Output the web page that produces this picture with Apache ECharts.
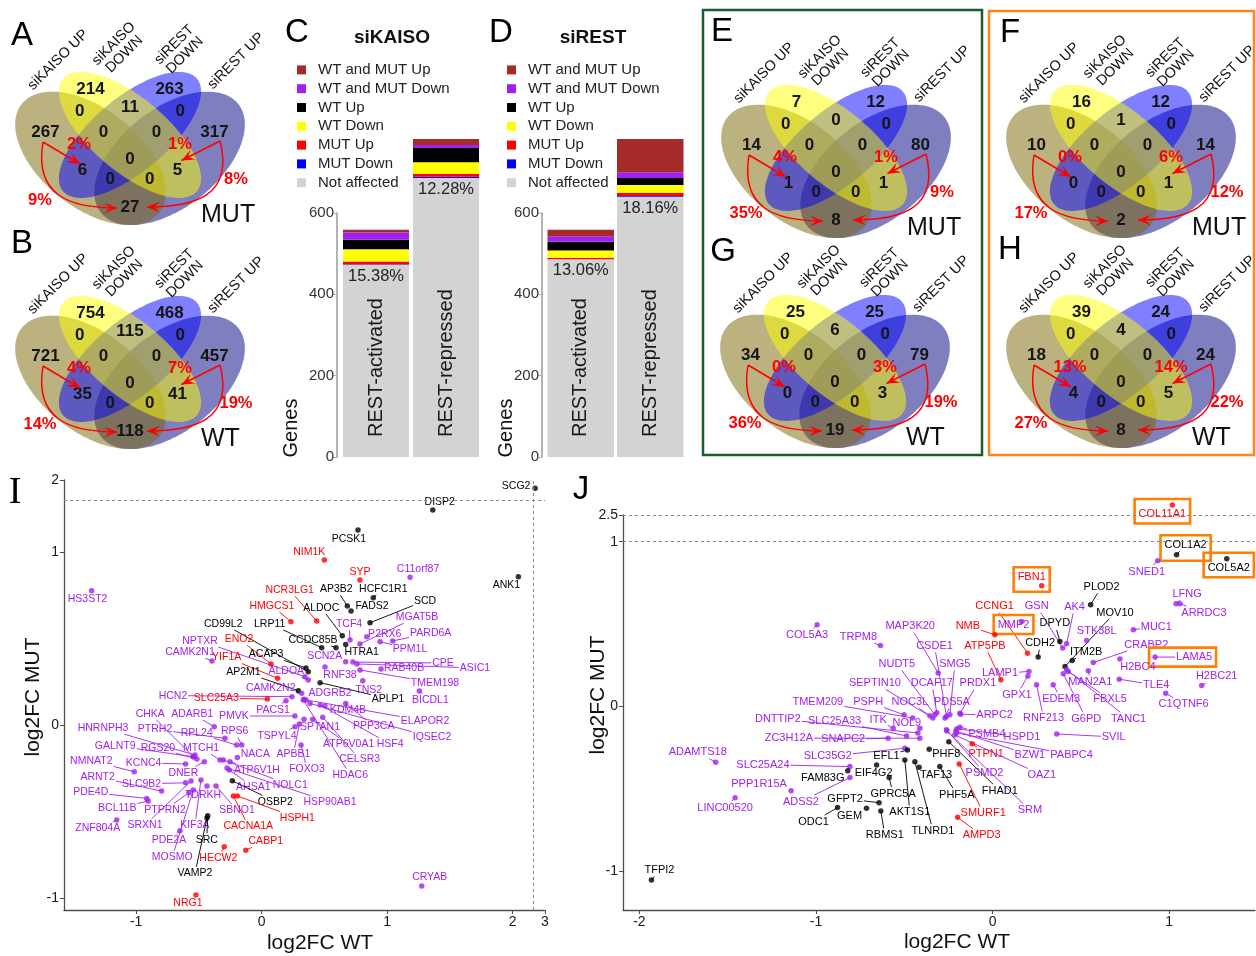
<!DOCTYPE html>
<html>
<head>
<meta charset="utf-8">
<title>Figure</title>
<script src="https://cdn.jsdelivr.net/npm/echarts@6.0.0/dist/echarts.min.js"></script>
<style>
html,body{margin:0;padding:0;background:#ffffff;}
#chart{width:1256px;height:956px;}
</style>
</head>
<body>
<div id="chart"></div>
<script>
// ======================= DATA =======================
// Venn panels: region counts in order
// topL, topC, topR, midL, midR, farL, inL, inR, farR, center, lowL, lowR, botL, botR, bottom
const vennSetNames = ['siKAISO UP', 'siKAISO\nDOWN', 'siREST\nDOWN', 'siREST UP'];
const vennA = [214, 11, 263, 0, 0, 267, 0, 0, 317, 0, 6, 5, 0, 0, 27];
const vennB = [754, 115, 468, 0, 0, 721, 0, 0, 457, 0, 35, 41, 0, 0, 118];
const vennE = [7, 0, 12, 0, 0, 14, 0, 0, 80, 0, 1, 1, 0, 0, 8];
const vennG = [25, 6, 25, 0, 0, 34, 0, 0, 79, 0, 0, 3, 0, 0, 19];
const vennF = [16, 1, 12, 0, 0, 10, 0, 0, 14, 0, 0, 1, 0, 0, 2];
const vennH = [39, 4, 24, 0, 0, 18, 0, 0, 24, 0, 4, 5, 0, 0, 8];
// percent annotations: [left small, right small, left big, right big]
const pctA = ['2%', '1%', '9%', '8%'];
const pctB = ['4%', '7%', '14%', '19%'];
const pctE = ['4%', '1%', '35%', '9%'];
const pctG = ['0%', '3%', '36%', '19%'];
const pctF = ['0%', '6%', '17%', '12%'];
const pctH = ['13%', '14%', '27%', '22%'];

// Stacked bars (C: siKAISO, D: siREST)
const barCategories = ['REST-activated', 'REST-repressed'];
const stackNames = ['Not affected', 'MUT Down', 'MUT Up', 'WT Down', 'WT Up', 'WT and MUT Down', 'WT and MUT Up'];
const kaisoCounts = [[473, 686], [1, 3], [7, 7], [30, 29], [23, 35], [18, 7], [7, 15]];
const restCounts  = [[486, 640], [0, 2], [4, 8], [18, 19], [21, 17], [14, 14], [16, 82]];
const barTicks = [0, 200, 400, 600];

// Scatter I
const namesI = [
  'SCG2','DISP2','PCSK1','NIM1K','SYP','C11orf87','ANK1','HS3ST2',
  'NCR3LG1','AP3B2','HCFC1R1','ALDOC','FADS2','SCD','HMGCS1','LRP11',
  'CD99L2','TCF4','MGAT5B','P2RX6','PARD6A','PPM1L','CCDC85B','HTRA1',
  'NPTXR','ENO2','YIF1A','ACAP3','AP2M1','ALDOA','SCN2A','RNF38',
  'CPE','ASIC1','RAB40B','TMEM198','TNS2','BICDL1','APLP1','CAMK2N1',
  'CAMK2N2','HCN2','SLC25A3','ADGRB2','PACS1','KDM4B','ELAPOR2','IQSEC2',
  'PPP3CA','HSF4','ATP6V0A1','CELSR3','HDAC6','SPTAN1','PMVK','TSPYL4',
  'APBB1','FOXO3','CHKA','ADARB1','HNRNPH3','PTRH2','RPL24','GALNT9',
  'RGS20','MTCH1','NMNAT2','KCNC4','DNER','ARNT2','SLC9B2','PDE4D',
  'BCL11B','PTPRN2','ZNF804A','SRXN1','KIF3A','PDE2A','MOSMO','TDRKH',
  'SBNO1','NACA','RPS6','ATP6V1H','NOLC1','AHSA1','OSBP2','HSP90AB1',
  'HSPH1','CACNA1A','SRC','VAMP2','HECW2','CABP1','NRG1','CRYAB'
];
const groupI = [
  'K','K','K','R','R','P','K','P',
  'R','K','K','K','K','K','R','K',
  'K','P','P','P','P','P','K','K',
  'P','R','R','K','K','P','P','P',
  'P','P','P','P','P','P','K','P',
  'P','P','R','P','P','P','P','P',
  'P','P','P','P','P','P','P','P',
  'P','P','P','P','P','P','P','P',
  'P','P','P','P','P','P','P','P',
  'P','P','P','P','P','P','P','P',
  'P','P','P','P','P','P','K','P',
  'R','R','K','K','R','R','R','P'
];
const xI = [
  2.34, 1.363, 0.767, 0.499, 0.783, 1.182, 2.045, -1.355,
  0.438, 0.682, 0.889, 0.642, 0.712, 0.863, 0.233, 0.478,
  0.371, 0.704, 0.783, 0.837, 1.044, 0.943, 0.592, 0.669,
  0.345, 0.074, 0.127, 0.353, 0.292, 0.371, 0.669, 0.504,
  0.727, 0.759, 0.951, 0.783, 0.805, 1.256, 0.465, -0.396,
  0.319, 0.241, 0.045, 0.337, 0.194, 0.504, 0.353, 0.385,
  0.669, 0.465, 0.406, 0.486, 0.331, 0.337, 0.265, 0.265,
  0.300, 0.313, -0.545, -0.378, -0.531, -0.292, -0.199, -0.545,
  -0.516, -0.332, -1.015, -0.606, -0.457, -0.797, -0.606, -0.916,
  -0.904, -0.579, -1.155, -0.563, -0.484, -0.651, -0.545, -0.436,
  -0.364, -0.194, -0.159, -0.253, -0.306, -0.258, -0.234, -0.276,
  -0.194, -0.226, -0.430, -0.436, -0.298, -0.127, -0.524, 1.275
];
const yI = [
  1.71, 1.243, 1.127, 0.954, 0.838, 0.854, 0.857, 0.776,
  0.601, 0.688, 0.736, 0.516, 0.659, 0.591, 0.597, 0.447,
  0.308, 0.491, 0.468, 0.510, 0.486, 0.481, 0.447, 0.466,
  0.279, 0.353, 0.270, 0.329, 0.198, 0.260, 0.366, 0.335,
  0.364, 0.353, 0.324, 0.318, 0.256, 0.197, 0.245, 0.370,
  0.183, 0.164, 0.150, 0.149, 0.140, 0.110, 0.145, 0.125,
  0.125, 0.116, 0.033, 0.045, 0.145, 0.033, 0.052, -0.010,
  0.006, -0.116, -0.183, -0.010, -0.173, -0.077, -0.116, -0.183,
  -0.197, -0.202, -0.270, -0.225, -0.212, -0.382, -0.334, -0.424,
  -0.439, -0.391, -0.549, -0.324, -0.318, -0.611, -0.376, -0.353,
  -0.353, -0.187, -0.116, -0.212, -0.202, -0.260, -0.322, -0.249,
  -0.410, -0.410, -0.524, -0.538, -0.703, -0.723, -0.983, -0.931
];
const ticksIx = [-1, 0, 1, 2, 3];
const ticksIy = [-1, 0, 1, 2];

// Scatter J
const namesJ = [
  'COL11A1','COL1A2','COL5A2','SNED1','FBN1','PLOD2','LFNG','ARRDC3',
  'GSN','AK4','CCNG1','MOV10','MMP2','NMB','DPYD','MUC1',
  'STK38L','COL5A3','TRPM8','MAP3K20','ATP5PB','CDH2','CSDE1','ITM2B',
  'CRABP2','LAMA5','LAMP1','NUDT5','SMG5','H2BC4','MAN2A1','H2BC21',
  'TLE4','SEPTIN10','DCAF17','PRDX1','GPX1','EDEM3','FBXL5','RNF213',
  'G6PD','TANC1','C1QTNF6','TMEM209','PSPH','NOC3L','PDS5A','ARPC2',
  'ITK','NOL9','SLC25A33','DNTTIP2','ZC3H12A','SNAPC2','SLC35G2','PSMB4',
  'HSPD1','PTPN1','BZW1','PABPC4','SVIL','PSMD2','OAZ1','SRM',
  'ADAMTS18','SLC25A24','EFL1','PHF8','FAM83G','EIF4G2','TAF13','PHF5A',
  'FHAD1','GPRC5A','SMURF1','PPP1R15A','ADSS2','LINC00520','GFPT2','ODC1',
  'GEM','AKT1S1','RBMS1','TLNRD1','AMPD3','TFPI2'
];
const groupJ = [
  'R','K','K','P','R','K','P','P',
  'P','P','R','K','P','R','K','P',
  'P','P','P','P','R','K','P','K',
  'P','P','P','P','P','P','P','P',
  'P','P','P','P','P','P','P','P',
  'P','P','P','P','P','P','P','P',
  'P','P','P','P','P','P','P','P',
  'P','R','P','P','P','P','P','P',
  'P','P','K','K','K','K','K','K',
  'K','K','R','P','P','P','K','K',
  'K','K','K','K','R','K'
];
const xJ = [
  1.018, 1.042, 1.326, 0.935, 0.278, 0.555, 1.039, 1.061,
  0.397, 0.419, 0.198, 0.410, 0.164, 0.013, 0.381, 0.797,
  0.533, -0.994, -0.635, -0.308, 0.047, 0.258, -0.261, 0.451,
  0.570, 0.920, 0.206, -0.327, -0.242, 0.721, 0.542, 1.184,
  0.717, -0.338, -0.316, -0.185, 0.200, 0.343, 0.428, 0.249,
  0.400, 0.419, 0.980, -0.452, -0.501, -0.355, -0.270, -0.181,
  -0.563, -0.412, -0.487, -0.423, -0.412, -0.592, -0.497, -0.185,
  -0.202, -0.116, -0.208, -0.204, 0.363, -0.261, -0.214, -0.259,
  -1.568, -0.808, -0.482, -0.359, -0.820, -0.657, -0.416, -0.299,
  -0.248, -0.586, -0.189, -1.141, -0.808, -1.458, -0.643, -0.878,
  -0.714, -0.497, -0.633, -0.440, -0.198, -1.932
];
const yJ = [
  3.06, 0.921, 0.897, 0.885, 0.733, 0.618, 0.624, 0.624,
  0.355, 0.381, 0.324, 0.243, 0.516, 0.435, 0.395, 0.466,
  0.401, 0.496, 0.370, 0.203, 0.162, 0.300, -0.061, 0.279,
  0.267, 0.300, 0.213, -0.050, -0.050, 0.288, 0.217, 0.128,
  0.166, -0.069, -0.038, -0.040, 0.186, 0.132, 0.213, 0.132,
  0.199, 0.223, 0.081, -0.069, -0.050, -0.056, -0.069, -0.046,
  -0.131, -0.131, -0.178, -0.160, -0.192, -0.192, -0.253, -0.125,
  -0.135, -0.226, -0.148, -0.160, -0.166, -0.141, -0.172, -0.148,
  -0.338, -0.364, -0.263, -0.259, -0.390, -0.354, -0.368, -0.364,
  -0.213, -0.431, -0.348, -0.510, -0.431, -0.553, -0.583, -0.613,
  -0.617, -0.324, -0.633, -0.334, -0.672, -1.052
];
const boxedJ = ['COL11A1', 'COL1A2', 'COL5A2', 'FBN1', 'MMP2', 'LAMA5'];
const ticksJx = [-2, -1, 0, 1];
const ticksJy = [-1, 0, 1, 2.5];

// ======================= LAYOUT (label placement, pixels) =======================
const labelOffI = [
  [-19,-2],[7,-8],[-9,9],[-15,-8],[0,-8],[8,-8],[-12,8],[-4,8],
  [-27,-31],[-11,-17],[10,-9],[-21,-28],[21,-5],[55,-22],[-19,-16],[-52,-24],
  [-85,-48],[-1,-16],[57,-27],[18,-3],[38,-8],[30,7],[-23,-8],[16,8],
  [-105,-36],[-32,-25],[-51,-21],[-40,-14],[-55,-19],[-22,-9],[-21,-6],[15,8],
  [90,1],[118,4],[23,-1],[75,13],[6,9],[11,9],[68,16],[-22,-9],
  [-31,-5],[-119,-1],[-51,-1],[26,-6],[-13,9],[23,4],[119,21],[122,34],
  [28,23],[70,39],[36,25],[37,42],[47,75],[16,8],[-61,0],[-18,9],
  [-6,30],[6,24],[-43,-43],[-22,-13],[-92,-27],[-70,-9],[-40,-12],[-78,-11],
  [-39,-11],[-19,-12],[-43,-11],[-42,-1],[-21,11],[-64,-14],[-44,1],[-56,-6],
  [-31,7],[-24,17],[-19,8],[-46,44],[-6,45],[-11,9],[-21,67],[-4,9],
  [21,24],[18,-3],[-7,-14],[27,8],[67,25],[24,17],[43,21],[103,34],
  [60,22],[15,30],[-1,24],[-12,55],[-6,11],[20,-9],[-8,8],[8,-9]
];
const labelOffJ = [
  [-10,9],[9,-10],[2,9],[-11,11],[-10,-9],[11,-18],[11,-10],[24,9],
  [-26,-42],[8,-37],[-33,-47],[50,-54],[-8,3],[-27,-9],[-5,-18],[23,-3],
  [10,-9],[-10,10],[-22,-9],[-28,-47],[-16,-34],[2,-14],[-12,-71],[14,-9],
  [53,-18],[39,0],[-29,2],[-38,-51],[5,-51],[18,8],[2,11],[15,-9],
  [37,6],[-58,-35],[-5,-30],[18,-30],[-11,19],[8,14],[42,28],[7,33],
  [23,45],[62,49],[18,11],[-95,-16],[-36,-13],[-20,-14],[7,-16],[34,1],
  [-15,-8],[-13,-5],[-72,-15],[-140,-14],[-131,0],[-45,1],[-77,8],[27,7],
  [65,8],[14,10],[74,24],[115,22],[57,3],[38,43],[87,40],[83,79],
  [-18,-10],[-87,-2],[-21,6],[17,5],[-25,7],[-3,8],[17,8],[17,28],
  [51,49],[4,16],[24,49],[-32,-7],[-49,24],[-10,10],[-34,-4],[-24,14],
  [-17,8],[5,52],[4,24],[18,69],[24,18],[8,-10]
];

// ======================= STYLE =======================
const FONT = 'Liberation Sans';
const groupColor = { P: '#a020f0', R: '#ff0000', K: '#000000' };
const stackColors = ['#d3d3d3', '#0000ff', '#ff0000', '#ffff00', '#000000', '#a020f0', '#a52a2a'];
const legendOrder = ['WT and MUT Up', 'WT and MUT Down', 'WT Up', 'WT Down', 'MUT Up', 'MUT Down', 'Not affected'];

// broken-axis scales (compressed band beyond a break)
function squash(v, brk, top, tTop) { return v <= brk ? v : brk + (v - brk) / (top - brk) * (tTop - brk); }
const I_X = { min: -1.575, brk: 2.156, top: 3, tTop: 2.257 };
const I_Y = { min: -1.069, brk: 1.30, top: 2, tTop: 1.416 };
const J_X = { min: -2.093, max: 1.486 };
const J_Y = { min: -1.234, brk: 1, top: 2.5, tTop: 1.162 };
const tIx = v => squash(v, I_X.brk, I_X.top, I_X.tTop);
const tIy = v => squash(v, I_Y.brk, I_Y.top, I_Y.tTop);
const tJx = v => v;
const tJy = v => squash(v, J_Y.brk, J_Y.top, J_Y.tTop);

// ======================= HELPERS =======================
const measureCtx = document.createElement('canvas').getContext('2d');
function textWidth(s, size) { measureCtx.font = size + 'px "' + FONT + '"'; return measureCtx.measureText(s).width; }

function scatterAxis(ticks, fn) {
  const vals = ticks.map(fn);
  return {
    axisLine: { show: true, onZero: false, lineStyle: { color: '#4d4d4d', width: 1.3 } },
    axisTick: { show: true, customValues: vals, length: 4, lineStyle: { color: '#4d4d4d' } },
    axisLabel: {
      customValues: vals, fontSize: 14, color: '#1a1a1a', margin: 5, fontFamily: FONT,
      formatter: function (v) {
        for (let k = 0; k < ticks.length; k++) if (Math.abs(vals[k] - v) < 1e-6) return String(ticks[k]);
        return '';
      }
    },
    splitLine: { show: false }
  };
}

function labelRenderer(names, groups, offs, fs, boxed) {
  return function (params, api) {
    const i = api.value(2);
    const p = api.coord([api.value(0), api.value(1)]);
    const col = groupColor[groups[i]];
    const name = names[i];
    const cx = p[0] + offs[i][0], cy = p[1] + offs[i][1];
    const hw = textWidth(name, fs) / 2 + 1, hh = fs * 0.5 + 1;
    const children = [];
    const dx = p[0] - cx, dy = p[1] - cy;
    if (Math.abs(dx) > hw || Math.abs(dy) > hh) {
      const t = Math.min(dx !== 0 ? hw / Math.abs(dx) : Infinity, dy !== 0 ? hh / Math.abs(dy) : Infinity);
      const ex = cx + dx * t, ey = cy + dy * t;
      if (Math.hypot(p[0] - ex, p[1] - ey) > 4) {
        children.push({ type: 'line', shape: { x1: ex, y1: ey, x2: p[0], y2: p[1] }, style: { stroke: col, lineWidth: 0.9 } });
      }
    }
    children.push({ type: 'text', x: cx, y: cy, style: { text: name, fill: col, fontSize: fs, fontFamily: FONT, align: 'center', verticalAlign: 'middle' } });
    if (boxed.indexOf(name) >= 0) {
      const x0 = Math.min(cx - hw, p[0] - 3) - 3, x1 = Math.max(cx + hw, p[0] + 3) + 3;
      const y0 = Math.min(cy - hh, p[1] - 3) - 3, y1 = Math.max(cy + hh, p[1] + 3) + 3;
      children.push({ type: 'rect', shape: { x: x0, y: y0, width: x1 - x0, height: y1 - y0 }, style: { fill: 'none', stroke: '#ff8000', lineWidth: 2.6 } });
    }
    return { type: 'group', children: children };
  };
}

function pctLabels(counts) {
  return barCategories.map((c, j) => {
    let total = 0; counts.forEach(s => { total += s[j]; });
    return ((total - counts[0][j]) / total * 100).toFixed(2) + '%';
  });
}

function barSeries(counts, ai, stackId, bw) {
  const pcts = pctLabels(counts);
  const arr = stackNames.map((nm, k) => ({
    type: 'bar', name: nm, xAxisIndex: ai, yAxisIndex: ai, stack: stackId,
    data: counts[k], barWidth: bw, barGap: '-100%', clip: false, silent: true,
    itemStyle: { color: stackColors[k] },
    label: k === 0 ? { show: true, position: 'insideTop', distance: 3, formatter: p => pcts[p.dataIndex], fontSize: 16.5, color: '#222', fontFamily: FONT } : { show: false }
  }));
  arr.push({
    type: 'bar', xAxisIndex: ai, yAxisIndex: ai, data: counts[0], barWidth: bw, barGap: '-100%', clip: false, silent: true, z: 3,
    itemStyle: { color: 'rgba(0,0,0,0)' },
    label: { show: true, position: 'insideBottom', rotate: 90, align: 'left', verticalAlign: 'middle', distance: 20,
      formatter: p => barCategories[p.dataIndex], fontSize: 20, color: '#1a1a1a', fontFamily: FONT }
  });
  return arr;
}

// ---------- Venn graphics ----------
const vennRegionPos = [[0.35,0.766],[0.5,0.69],[0.65,0.766],[0.31,0.67],[0.69,0.67],[0.18,0.58],[0.4,0.58],[0.6,0.58],[0.82,0.58],[0.5,0.465],[0.32,0.42],[0.68,0.42],[0.425,0.38],[0.575,0.38],[0.5,0.262]];
const ellipseDefs = [
  { c: [0.65, 0.47], a: 0.35, b: 0.20, th: 45,  fill: 'rgba(0,0,128,0.5)' },
  { c: [0.35, 0.47], a: 0.35, b: 0.20, th: 135, fill: 'rgba(122,102,0,0.5)' },
  { c: [0.50, 0.57], a: 0.35, b: 0.15, th: 45,  fill: 'rgba(0,0,255,0.5)' },
  { c: [0.50, 0.57], a: 0.35, b: 0.15, th: 135, fill: 'rgba(255,255,0,0.5)' }
];
function vennMap(ox, oy, X, Y) { return [ox + 130 + (X - 0.5) * 264, oy + 72 + (0.839 - Y) * 234]; }
function ellipsePoints(d, ox, oy) {
  const pts = []; const th = d.th * Math.PI / 180;
  for (let k = 0; k < 160; k++) {
    const t = k / 160 * 2 * Math.PI;
    const X = d.c[0] + d.a * Math.cos(t) * Math.cos(th) - d.b * Math.sin(t) * Math.sin(th);
    const Y = d.c[1] + d.a * Math.cos(t) * Math.sin(th) + d.b * Math.sin(t) * Math.cos(th);
    pts.push(vennMap(ox, oy, X, Y));
  }
  return pts;
}
function arrowHead(tip, from) {
  const dx = tip[0] - from[0], dy = tip[1] - from[1]; const L = Math.hypot(dx, dy);
  const ux = dx / L, uy = dy / L, nx = -uy, ny = ux; const len = 13, w = 5.5;
  const bx = tip[0] - ux * len, by = tip[1] - uy * len;
  return { type: 'polygon', shape: { points: [tip, [bx + nx * w, by + ny * w], [tip[0] - ux * len * 0.55, tip[1] - uy * len * 0.55], [bx - nx * w, by - ny * w]] }, style: { fill: '#ff0000' } };
}
const setLabelPos = [[58, 60], [119, 49], [179.5, 50], [236, 61]];
const pctPos = [[79, 144], [180, 144], [40, 200], [236, 179]];

const vennPanels = [
  { counts: vennA, pcts: pctA, cond: 'MUT', ox: 0,   oy: 0 },
  { counts: vennB, pcts: pctB, cond: 'WT',  ox: 0,   oy: 224 },
  { counts: vennE, pcts: pctE, cond: 'MUT', ox: 706, oy: 13 },
  { counts: vennG, pcts: pctG, cond: 'WT',  ox: 705, oy: 223 },
  { counts: vennF, pcts: pctF, cond: 'MUT', ox: 991, oy: 13 },
  { counts: vennH, pcts: pctH, cond: 'WT',  ox: 991, oy: 223 }
];

const G = [];
vennPanels.forEach(pn => {
  const ox = pn.ox, oy = pn.oy;
  ellipseDefs.forEach(d => G.push({ type: 'polygon', shape: { points: ellipsePoints(d, ox, oy) }, style: { fill: d.fill } }));
  pn.counts.forEach((v, k) => {
    const pp = vennMap(ox, oy, vennRegionPos[k][0], vennRegionPos[k][1]);
    G.push({ type: 'text', x: pp[0], y: pp[1], style: { text: String(v), fill: '#151515', fontSize: 17, fontWeight: 'bold', fontFamily: FONT, align: 'center', verticalAlign: 'middle' } });
  });
  vennSetNames.forEach((s, k) => {
    G.push({ type: 'text', x: ox + setLabelPos[k][0], y: oy + setLabelPos[k][1], rotation: Math.PI / 4,
      style: { text: s, fill: '#111', fontSize: 14.5, lineHeight: 15, fontFamily: FONT, align: 'center', verticalAlign: 'middle' } });
  });
  // arrows
  const P = (x, y) => [ox + x, oy + y];
  const s1a = P(43, 142), s1b = P(80, 164);
  const s2a = P(220, 141), s2b = P(181.5, 160.5);
  G.push({ type: 'line', shape: { x1: s1a[0], y1: s1a[1], x2: s1b[0], y2: s1b[1] }, style: { stroke: '#ff0000', lineWidth: 1.5 } });
  G.push(arrowHead(s1b, s1a));
  G.push({ type: 'line', shape: { x1: s2a[0], y1: s2a[1], x2: s2b[0], y2: s2b[1] }, style: { stroke: '#ff0000', lineWidth: 1.5 } });
  G.push(arrowHead(s2b, s2a));
  const c1 = [P(43, 142), P(34, 196), P(70, 208), P(117, 208)];
  const c2 = [P(220, 141), P(234, 196), P(195, 207), P(147, 207)];
  [c1, c2].forEach(c => {
    G.push({ type: 'bezierCurve', shape: { x1: c[0][0], y1: c[0][1], cpx1: c[1][0], cpy1: c[1][1], cpx2: c[2][0], cpy2: c[2][1], x2: c[3][0], y2: c[3][1] }, style: { stroke: '#ff0000', lineWidth: 1.5, fill: 'none' } });
    G.push(arrowHead(c[3], c[2]));
  });
  pn.pcts.forEach((t, k) => {
    G.push({ type: 'text', x: ox + pctPos[k][0], y: oy + pctPos[k][1], style: { text: t, fill: '#ff0000', fontSize: 16.5, fontWeight: 'bold', fontFamily: FONT, align: 'center', verticalAlign: 'middle' } });
  });
  G.push({ type: 'text', x: ox + 201, y: oy + 215, style: { text: pn.cond, fill: '#111', fontSize: 25, fontFamily: FONT, align: 'left', verticalAlign: 'middle' } });
});

// frames around E/G and F/H
G.push({ type: 'rect', shape: { x: 703, y: 10, width: 279, height: 445 }, style: { fill: 'none', stroke: '#1d5a2f', lineWidth: 2.5 } });
G.push({ type: 'rect', shape: { x: 989, y: 11, width: 265, height: 444 }, style: { fill: 'none', stroke: '#ff8419', lineWidth: 2.5 } });

// panel letters
[['A', 22, 36], ['B', 22, 244], ['C', 297, 33], ['D', 501, 33], ['E', 722, 32], ['G', 723, 252], ['F', 1010, 33], ['H', 1010, 250], ['J', 581, 490]].forEach(l => {
  G.push({ type: 'text', x: l[1], y: l[2], style: { text: l[0], fill: '#000', fontSize: 33, fontFamily: FONT, align: 'center', verticalAlign: 'middle' } });
});
G.push({ type: 'text', x: 15, y: 493, style: { text: 'I', fill: '#000', fontSize: 38, fontFamily: 'Liberation Serif', align: 'center', verticalAlign: 'middle' } });

// bar titles, axis names
G.push({ type: 'text', x: 392, y: 38, style: { text: 'siKAISO', fill: '#111', fontSize: 19, fontWeight: 'bold', fontFamily: FONT, align: 'center', verticalAlign: 'middle' } });
G.push({ type: 'text', x: 593, y: 38, style: { text: 'siREST', fill: '#111', fontSize: 19, fontWeight: 'bold', fontFamily: FONT, align: 'center', verticalAlign: 'middle' } });
G.push({ type: 'text', x: 291, y: 428, rotation: Math.PI / 2, style: { text: 'Genes', fill: '#111', fontSize: 20, fontFamily: FONT, align: 'center', verticalAlign: 'middle' } });
G.push({ type: 'text', x: 506, y: 428, rotation: Math.PI / 2, style: { text: 'Genes', fill: '#111', fontSize: 20, fontFamily: FONT, align: 'center', verticalAlign: 'middle' } });
G.push({ type: 'text', x: 33, y: 697, rotation: Math.PI / 2, style: { text: 'log2FC MUT', fill: '#111', fontSize: 21, fontFamily: FONT, align: 'center', verticalAlign: 'middle' } });
G.push({ type: 'text', x: 320, y: 943, style: { text: 'log2FC WT', fill: '#111', fontSize: 21, fontFamily: FONT, align: 'center', verticalAlign: 'middle' } });
G.push({ type: 'text', x: 598, y: 695, rotation: Math.PI / 2, style: { text: 'log2FC MUT', fill: '#111', fontSize: 21, fontFamily: FONT, align: 'center', verticalAlign: 'middle' } });
G.push({ type: 'text', x: 957, y: 942, style: { text: 'log2FC WT', fill: '#111', fontSize: 21, fontFamily: FONT, align: 'center', verticalAlign: 'middle' } });

// ======================= CHART =======================
const chart = echarts.init(document.getElementById('chart'), null, { renderer: 'canvas' });

const barY = ai => ({
  gridIndex: ai, type: 'value', min: 0, max: 600, interval: 200, offset: 4,
  axisLine: { show: true, lineStyle: { color: '#b3b3b3', width: 2 } },
  axisTick: { show: true, length: 4, lineStyle: { color: '#b3b3b3' } },
  axisLabel: { fontSize: 15, color: '#333', margin: 3, fontFamily: FONT },
  splitLine: { show: false }
});
const legendBase = (left) => ({
  left: left, top: 60.5, orient: 'vertical', icon: 'rect', itemWidth: 9, itemHeight: 9, itemGap: 0, padding: 0,
  selectedMode: false, data: legendOrder,
  textStyle: { fontSize: 15, color: '#222', lineHeight: 18.8, fontFamily: FONT, padding: [0, 0, 0, 7] }
});

const dashed = { type: [3, 3], color: '#8a8a8a', width: 1 };

const option = {
  animation: false,
  backgroundColor: '#ffffff',
  textStyle: { fontFamily: FONT },
  grid: [
    { left: 341, top: 213, width: 140, height: 244 },
    { left: 546, top: 213, width: 139, height: 244 },
    { left: 64, top: 480, width: 481, height: 430 },
    { left: 623, top: 515, width: 632, height: 395 }
  ],
  xAxis: [
    { gridIndex: 0, type: 'category', data: barCategories, show: false },
    { gridIndex: 1, type: 'category', data: barCategories, show: false },
    Object.assign({ gridIndex: 2, type: 'value', min: I_X.min, max: I_X.tTop }, scatterAxis(ticksIx, tIx)),
    Object.assign({ gridIndex: 3, type: 'value', min: J_X.min, max: J_X.max }, scatterAxis(ticksJx, tJx))
  ],
  yAxis: [
    barY(0), barY(1),
    Object.assign({ gridIndex: 2, type: 'value', min: I_Y.min, max: I_Y.tTop }, scatterAxis(ticksIy, tIy)),
    Object.assign({ gridIndex: 3, type: 'value', min: J_Y.min, max: J_Y.tTop }, scatterAxis(ticksJy, tJy))
  ],
  legend: [legendBase(297), legendBase(507)],
  series: [].concat(
    barSeries(kaisoCounts, 0, 'kaiso', 66),
    barSeries(restCounts, 1, 'rest', 66.5),
    [
      {
        type: 'custom', xAxisIndex: 2, yAxisIndex: 2, clip: false, silent: true, z: 2,
        encode: { x: 0, y: 1 },
        data: xI.map((x, i) => [tIx(x), tIy(yI[i]), i]),
        renderItem: labelRenderer(namesI, groupI, labelOffI, 10.5, [])
      },
      {
        type: 'scatter', xAxisIndex: 2, yAxisIndex: 2, clip: false, silent: true, z: 4, symbolSize: 5.5,
        data: xI.map((x, i) => ({ value: [tIx(x), tIy(yI[i])], itemStyle: { color: groupColor[groupI[i]] } })),
        markLine: { silent: true, symbol: ['none', 'none'], label: { show: false }, lineStyle: dashed,
          data: [{ yAxis: I_Y.brk }, { yAxis: I_Y.tTop }, { xAxis: I_X.brk }, { xAxis: I_X.tTop }] }
      },
      {
        type: 'custom', xAxisIndex: 3, yAxisIndex: 3, clip: false, silent: true, z: 2,
        encode: { x: 0, y: 1 },
        data: xJ.map((x, i) => [tJx(x), tJy(yJ[i]), i]),
        renderItem: labelRenderer(namesJ, groupJ, labelOffJ, 11, boxedJ)
      },
      {
        type: 'scatter', xAxisIndex: 3, yAxisIndex: 3, clip: false, silent: true, z: 4, symbolSize: 5.5,
        data: xJ.map((x, i) => ({ value: [tJx(x), tJy(yJ[i])], itemStyle: { color: groupColor[groupJ[i]] } })),
        markLine: { silent: true, symbol: ['none', 'none'], label: { show: false }, lineStyle: dashed,
          data: [{ yAxis: J_Y.brk }, { yAxis: J_Y.tTop }, { xAxis: J_X.max }] }
      }
    ]
  ),
  graphic: { elements: G }
};
chart.setOption(option);
</script>
</body>
</html>
